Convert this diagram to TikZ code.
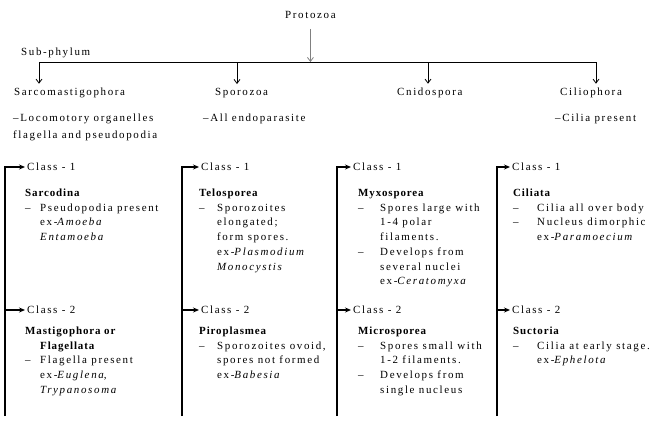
\documentclass[tikz,border=0pt]{standalone}
\usepackage{fontspec}
\setmainfont{Liberation Serif}[LetterSpace=15]
\newfontfamily\namefont{Liberation Serif}[LetterSpace=8]
\usepackage{tikz}
\usetikzlibrary{arrows.meta}
\newcommand{\dsh}{\textendash}

\begin{document}
\begin{tikzpicture}[x=1bp,y=-1bp,
        txt/.style={anchor=base west,inner sep=0pt,font=\fontsize{11}{14.8}\selectfont},
        phylum/.style={txt,inner ysep=4bp},
        clsbox/.style={anchor=west,inner sep=2pt,font=\fontsize{11}{14.8}\selectfont},
        down/.style={-{Straight Barb[length=4pt,width=6pt]},line width=0.8pt},
        colline/.style={-{Stealth[length=6pt,width=5pt]},line width=1.5pt}]
    \useasboundingbox (0,0) rectangle (661,426);

    % phylum and sub-phyla
    \node[txt,inner ysep=10bp] (protozoa) at (285,18.5) {Protozoa};
    \node[txt] (subphylum) at (21,55.5) {Sub-phylum};
    \coordinate (b1) at (39,62); \coordinate (b2) at (237,62);
    \coordinate (b3) at (428,62); \coordinate (b4) at (596,62);
    \draw[line width=0.8pt] (b1) -- (b4);
    \draw[down,gray] (protozoa.south) -- (protozoa.south |- b1);

    \node[phylum] (sarco) at (14,95.5) {Sarcomastigophora};
    \node[phylum] (sporo) at (215,95.5) {Sporozoa};
    \node[phylum] (cnido) at (397,95.5) {Cnidospora};
    \node[phylum] (cilio) at (560,95.5) {Ciliophora};
    \draw[down] (b1) -- (b1 |- sarco.north);
    \draw[down] (b2) -- (b2 |- sporo.north);
    \draw[down] (b3) -- (b3 |- cnido.north);
    \draw[down] (b4) -- (b4 |- cilio.north);

    \node[txt] (sarcodesc) at (13,121.5) {\begin{tabular}[t]{@{}l@{}}\dsh Locomotory organelles\\[2pt]flagella and pseudopodia\end{tabular}};
    \node[txt] (sporodesc) at (203,121.5) {\dsh All endoparasite};
    \node[txt] (ciliodesc) at (555,121.5) {\dsh Cilia present};

    % classes
    \node[clsbox] (c11) at (25,167) {Class - 1};
    \node[clsbox] (c21) at (199,167) {Class - 1};
    \node[clsbox] (c31) at (351,167) {Class - 1};
    \node[clsbox] (c41) at (510,167) {Class - 1};
    \node[clsbox] (c12) at (25,310) {Class - 2};
    \node[clsbox] (c22) at (199,310) {Class - 2};
    \node[clsbox] (c32) at (351,310) {Class - 2};
    \node[clsbox] (c42) at (510,310) {Class - 2};

    \coordinate (l1) at (5,416); \coordinate (l2) at (182,416);
    \coordinate (l3) at (337,416); \coordinate (l4) at (497,416);
    \draw[colline] (l1) |- (c11.west); \draw[colline] (l1 |- c12.west) -- (c12.west);
    \draw[colline] (l2) |- (c21.west); \draw[colline] (l2 |- c22.west) -- (c22.west);
    \draw[colline] (l3) |- (c31.west); \draw[colline] (l3 |- c32.west) -- (c32.west);
    \draw[colline] (l4) |- (c41.west); \draw[colline] (l4 |- c42.west) -- (c42.west);

    % class 1 texts
    \node[txt] (sarcodina) at (25,196.5) {\begin{tabular}[t]{@{}p{15bp}@{}l@{}}
        \multicolumn{2}{@{}l@{}}{\namefont\bfseries Sarcodina}\\
        \dsh & Pseudopodia present\\
        & ex-\textit{Amoeba}\\
        & \textit{Entamoeba}
    \end{tabular}};
    \node[txt] (telosporea) at (199,196.5) {\begin{tabular}[t]{@{}p{18bp}@{}l@{}}
        \multicolumn{2}{@{}l@{}}{\namefont\bfseries Telosporea}\\
        \dsh & Sporozoites\\
        & elongated;\\
        & form spores.\\
        & ex-\textit{Plasmodium}\\
        & \textit{Monocystis}
    \end{tabular}};
    \node[txt] (myxosporea) at (358,196.5) {\begin{tabular}[t]{@{}p{22bp}@{}l@{}}
        \multicolumn{2}{@{}l@{}}{\namefont\bfseries Myxosporea}\\
        \dsh & Spores large with\\
        & 1-4 polar\\
        & filaments.\\
        \dsh & Develops from\\
        & several nuclei\\
        & ex-\textit{Ceratomyxa}
    \end{tabular}};
    \node[txt] (ciliata) at (513,196.5) {\begin{tabular}[t]{@{}p{24bp}@{}l@{}}
        \multicolumn{2}{@{}l@{}}{\namefont\bfseries Ciliata}\\
        \dsh & Cilia all over body\\
        \dsh & Nucleus dimorphic\\
        & ex-\textit{Paramoecium}
    \end{tabular}};

    % class 2 texts
    \node[txt] (mastigo) at (25,334.5) {\begin{tabular}[t]{@{}p{15bp}@{}l@{}}
        \multicolumn{2}{@{}l@{}}{\namefont\bfseries Mastigophora or}\\
        & \namefont\bfseries Flagellata\\
        \dsh & Flagella present\\
        & ex-\textit{Euglena},\\
        & \textit{Trypanosoma}
    \end{tabular}};
    \node[txt] (piroplasmea) at (199,334.5) {\begin{tabular}[t]{@{}p{18bp}@{}l@{}}
        \multicolumn{2}{@{}l@{}}{\namefont\bfseries Piroplasmea}\\
        \dsh & Sporozoites ovoid,\\
        & spores not formed\\
        & ex-\textit{Babesia}
    \end{tabular}};
    \node[txt] (microsporea) at (358,334.5) {\begin{tabular}[t]{@{}p{22bp}@{}l@{}}
        \multicolumn{2}{@{}l@{}}{\namefont\bfseries Microsporea}\\
        \dsh & Spores small with\\
        & 1-2 filaments.\\
        \dsh & Develops from\\
        & single nucleus
    \end{tabular}};
    \node[txt] (suctoria) at (513,334.5) {\begin{tabular}[t]{@{}p{24bp}@{}l@{}}
        \multicolumn{2}{@{}l@{}}{\namefont\bfseries Suctoria}\\
        \dsh & Cilia at early stage.\\
        & ex-\textit{Ephelota}
    \end{tabular}};

\end{tikzpicture}
\end{document}
